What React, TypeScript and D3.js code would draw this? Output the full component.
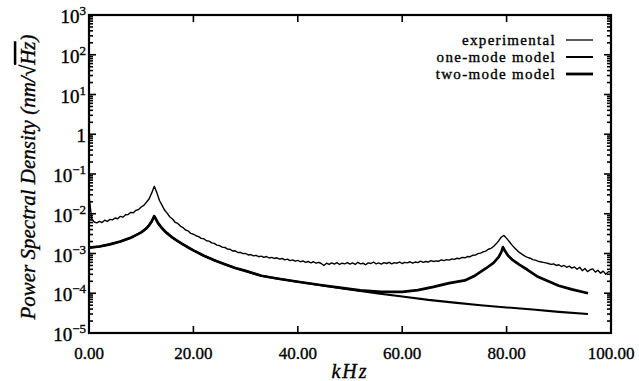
import * as d3 from "d3";

// experimental spectrum, sampled every 0.5 kHz from 0 to 100 kHz
const expStep = 0.5;
const expValues = [
  3.0e-2, 7.5e-3, 6.2e-3, 5.9e-3, 6.4e-3, 6.0e-3, 6.9e-3, 6.4e-3, 7.2e-3, 7.0e-3,
  7.8e-3, 7.5e-3, 8.6e-3, 8.2e-3, 9.4e-3, 9.6e-3, 1.08e-2, 1.06e-2, 1.22e-2, 1.28e-2,
  1.48e-2, 1.62e-2, 1.95e-2, 2.35e-2, 3.3e-2, 4.9e-2, 3.4e-2, 2.15e-2, 1.62e-2, 1.22e-2,
  1.02e-2, 8.3e-3, 7.4e-3, 6.1e-3, 5.7e-3, 4.9e-3, 4.5e-3, 3.9e-3, 3.7e-3, 3.2e-3,
  3.05e-3, 2.8e-3, 2.65e-3, 2.4e-3, 2.35e-3, 2.1e-3, 2.05e-3, 1.85e-3, 1.8e-3, 1.62e-3,
  1.58e-3, 1.45e-3, 1.42e-3, 1.3e-3, 1.28e-3, 1.16e-3, 1.17e-3, 1.06e-3, 1.07e-3, 9.9e-4,
  1.0e-3, 9.2e-4, 9.4e-4, 8.7e-4, 9.0e-4, 8.3e-4, 8.6e-4, 8.0e-4, 8.4e-4, 7.7e-4,
  8.0e-4, 7.5e-4, 7.8e-4, 7.2e-4, 7.5e-4, 6.9e-4, 7.2e-4, 6.6e-4, 6.9e-4, 6.4e-4,
  6.7e-4, 6.2e-4, 6.5e-4, 6.0e-4, 6.3e-4, 5.8e-4, 6.2e-4, 5.7e-4, 6.0e-4, 5.6e-4,
  5.0e-4, 5.7e-4, 5.3e-4, 5.8e-4, 5.4e-4, 5.9e-4, 5.3e-4, 5.7e-4, 5.5e-4, 5.9e-4,
  5.4e-4, 5.8e-4, 5.3e-4, 6.0e-4, 5.5e-4, 5.7e-4, 5.2e-4, 5.8e-4, 5.6e-4, 6.1e-4,
  5.5e-4, 5.8e-4, 5.4e-4, 5.9e-4, 5.6e-4, 6.0e-4, 5.5e-4, 5.9e-4, 5.7e-4, 6.1e-4,
  5.6e-4, 6.0e-4, 5.8e-4, 6.2e-4, 5.7e-4, 6.1e-4, 5.9e-4, 6.4e-4, 6.0e-4, 6.3e-4,
  6.1e-4, 6.6e-4, 6.3e-4, 6.5e-4, 6.4e-4, 6.9e-4, 6.6e-4, 7.0e-4, 6.8e-4, 7.3e-4,
  7.1e-4, 7.6e-4, 7.4e-4, 8.0e-4, 7.8e-4, 8.4e-4, 8.3e-4, 9.0e-4, 9.1e-4, 9.9e-4,
  1.02e-3, 1.1e-3, 1.15e-3, 1.28e-3, 1.35e-3, 1.5e-3, 1.75e-3, 2.1e-3, 2.6e-3, 2.85e-3,
  2.4e-3, 2.0e-3, 1.65e-3, 1.4e-3, 1.2e-3, 1.05e-3, 9.5e-4, 8.6e-4, 8.0e-4, 7.6e-4,
  7.0e-4, 6.8e-4, 6.4e-4, 6.2e-4, 6.0e-4, 5.8e-4, 5.6e-4, 5.3e-4, 5.5e-4, 5.0e-4,
  5.2e-4, 4.7e-4, 5.0e-4, 4.5e-4, 4.8e-4, 4.3e-4, 4.6e-4, 4.0e-4, 4.5e-4, 3.7e-4,
  4.2e-4, 3.5e-4, 3.9e-4, 4.1e-4, 3.4e-4, 3.8e-4, 3.2e-4, 3.6e-4, 3.0e-4, 3.5e-4,
  3.4e-4,
];

const oneModeFreq = [
  0, 2, 4, 6, 8, 9, 10, 10.5, 11, 11.5, 12, 12.3, 12.5, 12.8, 13.2, 13.7, 14.3, 15,
  16, 17, 18, 19, 20, 22, 24, 26, 28, 30, 33, 36, 40, 45, 50, 55, 60, 65, 70, 75,
  80, 85, 90, 95.6,
];
const oneModeValues = [
  1.4e-3, 1.5e-3, 1.7e-3, 2.0e-3, 2.5e-3, 2.9e-3, 3.4e-3, 3.8e-3, 4.3e-3, 5.1e-3,
  6.4e-3, 7.6e-3, 8.7e-3, 7.4e-3, 5.9e-3, 4.8e-3, 3.9e-3, 3.2e-3, 2.5e-3, 2.05e-3,
  1.7e-3, 1.42e-3, 1.2e-3, 8.8e-4, 6.8e-4, 5.4e-4, 4.3e-4, 3.65e-4, 2.75e-4, 2.35e-4,
  1.95e-4, 1.55e-4, 1.25e-4, 1.0e-4, 8.3e-5, 6.8e-5, 5.8e-5, 5.0e-5, 4.4e-5, 3.9e-5,
  3.4e-5, 3.0e-5,
];

const twoModeFreq = [
  0, 2, 4, 6, 8, 9, 10, 10.5, 11, 11.5, 12, 12.3, 12.5, 12.8, 13.2, 13.7, 14.3, 15,
  16, 17, 18, 19, 20, 22, 24, 26, 28, 30, 33, 36, 40, 45, 48, 52, 56, 60, 63, 66,
  69, 72, 74, 76, 77.5, 78.5, 79, 79.3, 79.7, 80.3, 81.2, 82.5, 84, 86, 88, 90,
  92.5, 95.6,
];
const twoModeValues = [
  1.4e-3, 1.5e-3, 1.7e-3, 2.0e-3, 2.5e-3, 2.9e-3, 3.4e-3, 3.8e-3, 4.3e-3, 5.1e-3,
  6.4e-3, 7.6e-3, 8.7e-3, 7.4e-3, 5.9e-3, 4.8e-3, 3.9e-3, 3.2e-3, 2.5e-3, 2.05e-3,
  1.7e-3, 1.42e-3, 1.2e-3, 8.8e-4, 6.8e-4, 5.4e-4, 4.3e-4, 3.65e-4, 2.75e-4, 2.35e-4,
  1.95e-4, 1.57e-4, 1.38e-4, 1.18e-4, 1.08e-4, 1.08e-4, 1.2e-4, 1.45e-4, 1.8e-4,
  2.1e-4, 2.8e-4, 4.2e-4, 5.8e-4, 8.2e-4, 1.1e-3, 1.45e-3, 1.15e-3, 8.8e-4, 6.8e-4,
  5.2e-4, 3.9e-4, 2.6e-4, 2.0e-4, 1.55e-4, 1.25e-4, 1.0e-4,
];

const xTicks = [0, 20, 40, 60, 80, 100];
const yExponents = [-5, -4, -3, -2, -1, 0, 1, 2, 3];
const legendLabels = ["experimental", "one-mode model", "two-mode model"];
const legendWidths = [1.3, 2, 2.8];

const W = 639;
const H = 381;
const left = 89;
const right = 611;
const top = 15;
const bottom = 333;
const serif = "'Liberation Serif', 'DejaVu Serif', serif";
// scanned print looks heavy, thicken glyphs a touch
const ink = { stroke: "#000", strokeWidth: 0.35 };

type Pt = { f: number; v: number };

export default function App() {
  const x = d3.scaleLinear().domain([0, 100]).range([left, right]);
  const y = d3.scaleLog().domain([1e-5, 1e3]).range([bottom, top]);

  const line = d3
    .line<Pt>()
    .x((d) => x(d.f))
    .y((d) => y(d.v));

  const expData: Pt[] = expValues.map((v, i) => ({ f: i * expStep, v }));
  const oneData: Pt[] = oneModeFreq.map((f, i) => ({ f, v: oneModeValues[i] }));
  const twoData: Pt[] = twoModeFreq.map((f, i) => ({ f, v: twoModeValues[i] }));

  const minors: number[] = [];
  yExponents.slice(0, -1).forEach((e) => {
    for (let m = 2; m <= 9; m++) minors.push(m * Math.pow(10, e));
  });

  return (
    <div style={{ position: "absolute", left: 0, top: 0 }}>
      <svg width={W} height={H} style={{ display: "block", background: "#fff" }}>
        {/* series */}
        <g fill="none" stroke="#000" strokeLinejoin="round">
          <path d={line(expData) ?? ""} strokeWidth={1.4} />
          <path d={line(oneData) ?? ""} strokeWidth={2.1} />
          <path d={line(twoData) ?? ""} strokeWidth={2.7} />
        </g>

        {/* frame */}
        <rect
          x={left}
          y={top}
          width={right - left}
          height={bottom - top}
          fill="none"
          stroke="#000"
          strokeWidth={2.2}
        />

        {/* ticks on all four sides, pointing inward */}
        <g stroke="#000" strokeWidth={1.6}>
          {xTicks.map((t) => (
            <g key={t}>
              <line x1={x(t)} x2={x(t)} y1={bottom} y2={bottom - 7} />
              <line x1={x(t)} x2={x(t)} y1={top} y2={top + 7} />
            </g>
          ))}
          {yExponents.map((e) => (
            <g key={e}>
              <line x1={left} x2={left + 7} y1={y(Math.pow(10, e))} y2={y(Math.pow(10, e))} />
              <line x1={right} x2={right - 7} y1={y(Math.pow(10, e))} y2={y(Math.pow(10, e))} />
            </g>
          ))}
          {minors.map((m, i) => (
            <g key={i}>
              <line x1={left} x2={left + 4} y1={y(m)} y2={y(m)} />
              <line x1={right} x2={right - 4} y1={y(m)} y2={y(m)} />
            </g>
          ))}
        </g>

        {/* x tick labels */}
        <g fontFamily={serif} fontSize={17} textAnchor="middle" {...ink}>
          {xTicks.map((t) => (
            <text key={t} x={x(t)} y={359}>
              {t.toFixed(2)}
            </text>
          ))}
        </g>

        {/* y tick labels */}
        <g fontFamily={serif} fontSize={19} textAnchor="end" {...ink}>
          {yExponents.map((e) => (
            <text key={e} x={86} y={y(Math.pow(10, e)) + 8}>
              {e === 0 ? (
                "1"
              ) : (
                <>
                  10
                  <tspan fontSize={13} dy={-8}>
                    {e < 0 ? "\u2212" + Math.abs(e) : e}
                  </tspan>
                </>
              )}
            </text>
          ))}
        </g>

        {/* axis titles */}
        <text
          x={350}
          y={378}
          fontFamily={serif}
          fontSize={20}
          fontStyle="italic"
          letterSpacing={2}
          textAnchor="middle"
          {...ink}
        >
          kHz
        </text>
        <text
          transform={`translate(35,${(top + bottom) / 2 + 3}) rotate(-90)`}
          fontFamily={serif}
          fontSize={21}
          fontStyle="italic"
          textAnchor="middle"
          {...ink}
        >
          Power Spectral Density (nm/
          <tspan fontStyle="normal">{"\u221A"}</tspan>
          <tspan style={{ textDecoration: "overline" }}>Hz</tspan>)
        </text>

        {/* legend */}
        <g fontFamily={serif} fontSize={15} letterSpacing={1.3}>
          {legendLabels.map((lab, i) => (
            <g key={lab}>
              <text x={556} y={45 + i * 17} textAnchor="end" {...ink}>
                {lab}
              </text>
              <line
                x1={566}
                x2={593}
                y1={40 + i * 17}
                y2={40 + i * 17}
                stroke="#000"
                strokeWidth={legendWidths[i]}
              />
            </g>
          ))}
        </g>
      </svg>
    </div>
  );
}
